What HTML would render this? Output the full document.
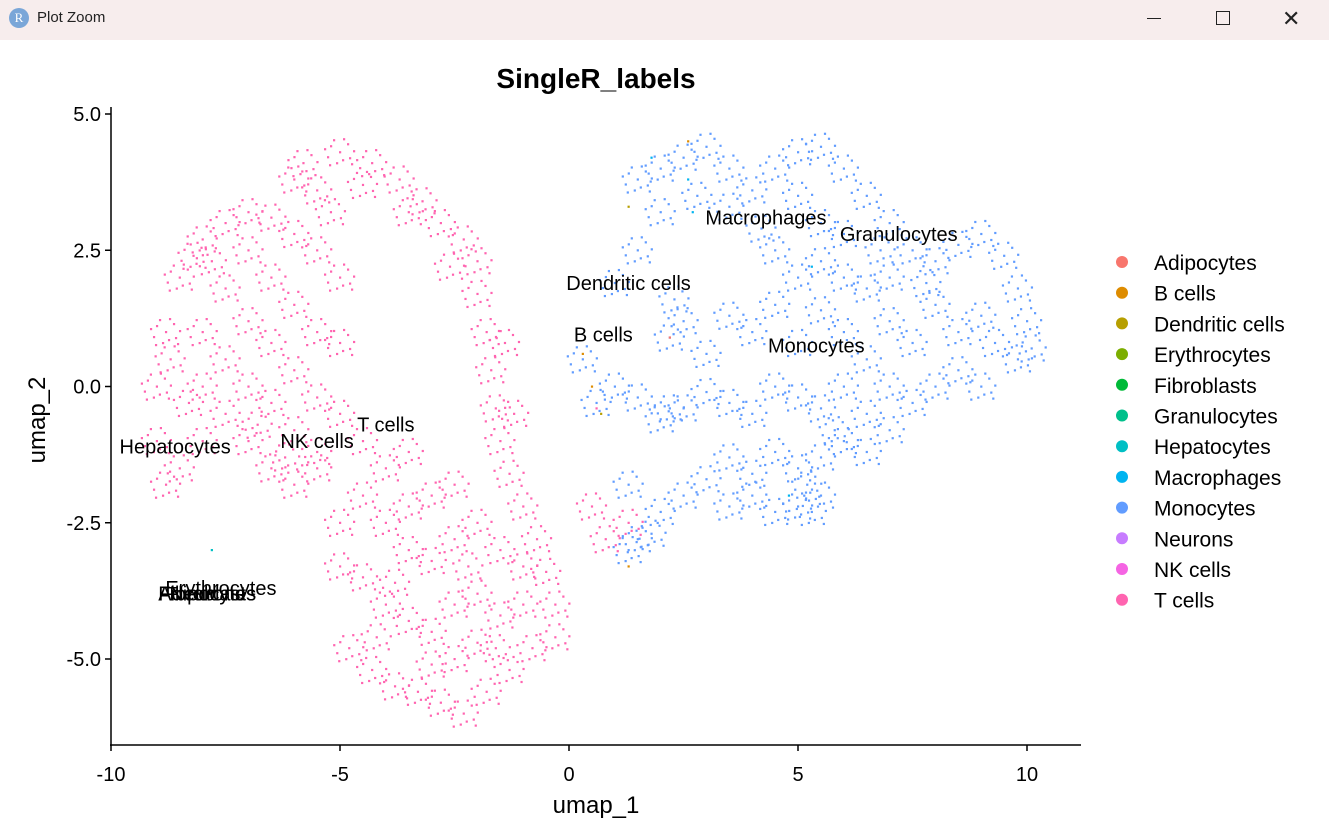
<!DOCTYPE html>
<html><head><meta charset="utf-8"><style>
body{margin:0;width:1329px;height:840px;overflow:hidden;background:#fff;font-family:"Liberation Sans",sans-serif}
#bar{position:absolute;left:0;top:0;width:1329px;height:40px;background:#f7eded}
</style></head><body>
<div id="bar">
<div style="position:absolute;left:9px;top:8px;width:20px;height:20px;border-radius:10px;background:#7aa6d8;color:#fff;font:13px 'Liberation Serif',serif;text-align:center;line-height:20px">R</div>
<div style="position:absolute;left:37px;top:9px;font-size:15px;color:#222">Plot Zoom</div>
<div style="position:absolute;left:1147px;top:18px;width:14px;height:1px;background:#222"></div>
<div style="position:absolute;left:1216px;top:11px;width:12px;height:12px;border:1.3px solid #222"></div>
<div style="position:absolute;left:1282px;top:6px;font-size:22px;color:#222">✕</div>
</div>
<svg id="chart" width="1329" height="840" style="position:absolute;left:0;top:0"></svg>
<script>
const categories=["Adipocytes","B cells","Dendritic cells","Erythrocytes","Fibroblasts","Granulocytes","Hepatocytes","Macrophages","Monocytes","Neurons","NK cells","T cells"];
const colors=["#F8766D","#DE8C00","#B79F00","#7CAE00","#00BA38","#00C08B","#00BFC4","#00B4F0","#619CFF","#C77CFF","#F564E3","#FF64B0"];
const xTicks=[-10,-5,0,5,10];
const yTicks=[5.0,2.5,0.0,-2.5,-5.0];
const tcellPts=[[-9,-1],[-9,0],[-8.8,1],[-8.5,2],[-8,2.7],[-7.5,3],[-7,3.2],[-6.5,3.1],[-8.5,-1.5],[-8,-1],[-8,0],[-8,1],[-7.5,1.8],[-7.5,0.5],[-7.5,-0.5],[-7,2.5],[-7,1.2],[-7,0],[-7,-1],[-6.5,2],[-6.5,0.8],[-6.5,-0.3],[-6.5,-1.5],[-6,1.5],[-6,0.3],[-6,-0.8],[-6,-1.8],[-5.5,2.5],[-5.5,1],[-5.5,-0.2],[-5.5,-1.2],[-5,2],[-5,0.8],[-5,-0.5],[-5.2,3.2],[-6,2.8],[-8.7,0.5],[-8.3,-0.3],[-7.8,2.3],[-6.8,-0.7],[-6,3.8],[-5.8,4.1],[-5,4.3],[-4.3,4.1],[-3.7,3.8],[-3.2,3.4],[-2.8,3.0],[-2.3,2.7],[-2,2.3],[-5.5,3.6],[-4.5,3.7],[-3.5,3.2],[-2.6,2.2],[-2,1.7],[-1.8,1],[-1.7,0.3],[-1.6,-0.4],[-1.5,-1],[-1.3,-1.6],[-1,-2.2],[-0.7,-2.8],[-0.5,-3.4],[-0.3,-4],[-0.3,-4.6],[-1.4,0.8],[-1.2,-0.5],[-4.5,-1],[-4,-1.5],[-3.5,-1.2],[-3,-2],[-2.5,-1.8],[-4.5,-2],[-4,-2.5],[-3.5,-3],[-3,-3.2],[-2.5,-2.8],[-2,-2.5],[-1.5,-3],[-5,-3.3],[-4.5,-3.5],[-4,-4],[-3.5,-4.3],[-3,-4.5],[-2.5,-4],[-2,-3.8],[-1.5,-4.2],[-1,-4],[-4.8,-4.8],[-4.3,-5.2],[-3.8,-5.5],[-3.3,-5.6],[-2.8,-5.8],[-2.3,-6],[-1.8,-5.6],[-1.3,-5.2],[-0.8,-4.8],[-2.5,-5],[-3,-5.1],[-2,-4.7],[-5.5,-1.5],[-5,-2.5],[-3.5,-2.2],[-1,-3.3],[0.8,-2.8],[1.3,-2.5],[0.5,-2.2],[-8.8,-1.8],[-8.2,2.4],[-6.2,-1.3],[-3.8,-3.6],[-2.2,-3.3],[-1.6,-4.8],[-4.2,-4.6]];
const monoPts=[[2,4],[2.5,4.2],[3,4.4],[3.5,4],[1.5,3.8],[2,3.2],[2.8,3.5],[3.5,3.3],[4,3.6],[4.5,4],[5,4.3],[5.5,4.4],[6,4],[6.5,3.5],[7,3],[5,3.5],[5.5,3],[6,2.8],[4.5,2.5],[5,2],[5.5,2.3],[6,2],[6.5,1.8],[7,2],[7.5,2.5],[8,2.3],[8.5,2.6],[9,2.8],[9.5,2.4],[9.8,1.8],[10,1.2],[10.1,0.7],[9.8,0.5],[9.3,0.8],[9,1.3],[8.5,1],[8,1.5],[7.5,0.8],[7,1.2],[6.5,0.5],[6,1],[5.5,1.4],[5,0.8],[4.5,1.5],[4,1],[3.5,1.3],[3,0.6],[2.5,1.2],[2.2,0.9],[2.3,1.6],[1.5,2.5],[1,1.9],[8,0],[7.5,-0.3],[7,0],[6.5,-0.5],[6,0],[5.5,-0.4],[5,-0.2],[4.5,0],[4,-0.5],[3.5,-0.3],[3,-0.1],[2.5,-0.4],[2,-0.6],[1.5,-0.2],[1,0],[6,-1],[5.5,-1.3],[5,-1.5],[4.5,-1.2],[4,-1.6],[3.5,-1.3],[3,-1.7],[2.5,-2],[2,-2.3],[1.8,-2.7],[1.5,-2.8],[4.5,-2.3],[5,-2.2],[5.5,-2],[5.3,-2.3],[4,-2],[3.5,-2.2],[6.5,-1.2],[7,-0.8],[8.5,0.3],[9,0],[1.3,-3],[0.3,0.5],[0.6,-0.3],[2.2,-0.4],[1.3,-1.8],[7.8,1.9],[6.8,2.5],[4.2,2.9],[5.8,-0.8],[5.2,-1.8]];
const otherPts=[[7,2.7,3.2],[7,2.6,3.8],[7,5.3,2.2],[7,4.8,-2],[7,1.8,4.2],[1,0.5,0],[1,0.3,0.6],[1,1.3,-3.3],[1,2.6,4.5],[2,1.3,3.3],[2,0.7,-0.5],[6,-7.8,-3],[0,2.2,0.9],[11,0.6,-0.4]];
const labelNames=["Macrophages","Granulocytes","Dendritic cells","B cells","Monocytes","T cells","NK cells","Hepatocytes","Erythrocytes","Adipocytes","Fibroblasts","Neurons"];
const labelX=[4.3,7.2,1.3,0.75,5.4,-4.0,-5.5,-8.6,-7.6,-7.9,-7.9,-7.9];
const labelY=[3.1,2.8,1.9,0.95,0.75,-0.7,-1.0,-1.1,-3.7,-3.8,-3.8,-3.8];

const svg=document.getElementById('chart');const NS='http://www.w3.org/2000/svg';
const sx=v=>569+v*45.8, sy=v=>386.5-v*54.5;
// each data point drawn as a small cloud of cell dots (fixed glyph pattern)
const cloud=[[0,0],[-9,-6],[8,-8],[-12,5],[10,6],[-3,11],[4,-13],[14,-1],[-15,-3],[3,8],[-6,-12],[12,12],[-10,13]];
function el(t,a,p){const e=document.createElementNS(NS,t);for(const k in a)e.setAttribute(k,a[k]);(p||svg).appendChild(e);return e;}
function txt(s,a){const e=el('text',a);e.textContent=s;return e;}
let t=txt('SingleR_labels',{x:596,y:88,'text-anchor':'middle','font-size':28,'font-weight':'bold',fill:'#000'});

const pg=el('g',{});
function drawPt(x,y,col,n){const g=el('g',{},pg);
cloud.forEach(o=>el('rect',{x:sx(x)+o[0]-1,y:sy(y)+o[1]-1,width:2.2,height:2.2,fill:col},g));}
tcellPts.forEach(p=>drawPt(p[0],p[1],colors[11],'point-t-cells'));
monoPts.forEach(p=>drawPt(p[0],p[1],colors[8],'point-monocytes'));
otherPts.forEach(p=>{const c=el('rect',{x:sx(p[1])-1,y:sy(p[2])-1,width:2.2,height:2.2,fill:colors[p[0]]},pg);});
labelNames.forEach((n,i)=>{const e=txt(n,{x:sx(labelX[i]),y:sy(labelY[i])+7,'text-anchor':'middle','font-size':20,fill:'#000'});});
let a=el('line',{x1:111,y1:107,x2:111,y2:746,stroke:'#000','stroke-width':1.5});
a=el('line',{x1:110,y1:745,x2:1081,y2:745,stroke:'#000','stroke-width':1.5});
xTicks.forEach(v=>{el('line',{x1:sx(v),y1:745,x2:sx(v),y2:751,stroke:'#000','stroke-width':1.5});const e=txt(String(v),{x:sx(v),y:781,'text-anchor':'middle','font-size':20,fill:'#000'});});
yTicks.forEach(v=>{el('line',{x1:105,y1:sy(v),x2:111,y2:sy(v),stroke:'#000','stroke-width':1.5});const e=txt(v.toFixed(1),{x:101,y:sy(v)+7,'text-anchor':'end','font-size':20,fill:'#000'});});
t=txt('umap_1',{x:596,y:813,'text-anchor':'middle','font-size':24,fill:'#000'});
t=txt('umap_2',{x:0,y:0,'text-anchor':'middle','font-size':24,fill:'#000',transform:'translate(45,420) rotate(-90)'});
categories.forEach((c,i)=>{const y=262+i*30.7;const g=el('g',{});
el('circle',{cx:1122,cy:y,r:6,fill:colors[i]},g);const e=el('text',{x:1154,y:y+8,'font-size':21,fill:'#000'},g);e.textContent=c;});
</script>
</body></html>
